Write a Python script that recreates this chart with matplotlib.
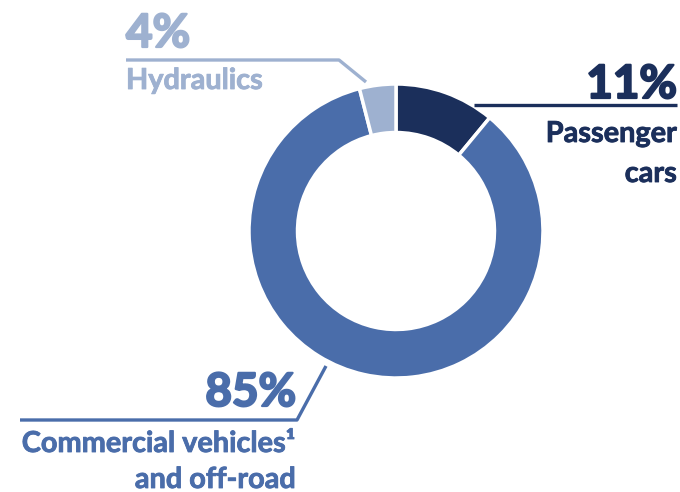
import matplotlib.pyplot as plt
import matplotlib.patheffects as pe

# revenue share by segment, clockwise from 12 o'clock
segments = ["Passenger cars", "Commercial vehicles¹ and off-road", "Hydraulics"]
shares = [11, 85, 4]
colors = ["#1B2F5B", "#4A6DAA", "#9EB1D0"]

# label text, one entry per line under the percentage
label_lines = [["Passenger", "cars"], ["Commercial vehicles¹", "and off-road"], ["Hydraulics"]]

plt.rcParams["font.family"] = ["Lato", "DejaVu Sans"]

W, H = 680, 492
fig = plt.figure(figsize=(W / 100, H / 100), dpi=100)
ax = fig.add_axes([0, 0, 1, 1])

# y axis runs downwards, so counter-clockwise in data space is clockwise on screen
cx, cy, r = 396, 231, 147
ax.pie(shares, colors=colors, startangle=-90, counterclock=True,
       center=(cx, cy), radius=r, frame=True,
       wedgeprops=dict(width=r * 0.33, edgecolor="white", linewidth=2.5))
ax.set_xlim(0, W)
ax.set_ylim(H, 0)
ax.axis("off")

pct_size = 33
lab_size = 20.8

# leader lines: (points), text anchor x, alignment, baselines
layout = [
    dict(line=[(474, 105), (677, 105)], x=677, ha="right",
         pct_base=98, base=[142, 182]),
    dict(line=[(326, 366), (297, 420), (20, 420)], x=296, ha="right",
         pct_base=406, base=[452, 488]),
    dict(line=[(366, 82), (339, 60), (126, 60)], x=126, ha="left",
         pct_base=47, base=[89]),
]

for share, col, lines, lay in zip(shares, colors, label_lines, layout):
    xs, ys = zip(*lay["line"])
    ax.plot(xs, ys, color=col, lw=2.4, solid_capstyle="butt")
    ax.text(lay["x"], lay["pct_base"], f"{share}%", color=col, fontsize=pct_size,
            fontweight="bold", ha=lay["ha"], va="baseline",
            path_effects=[pe.withStroke(linewidth=1.6, foreground=col)])
    for txt, b in zip(lines, lay["base"]):
        ax.text(lay["x"], b, txt, color=col, fontsize=lab_size,
                fontweight="bold", ha=lay["ha"], va="baseline",
                path_effects=[pe.withStroke(linewidth=0.6, foreground=col)])

fig.savefig("out.png", dpi=100)
